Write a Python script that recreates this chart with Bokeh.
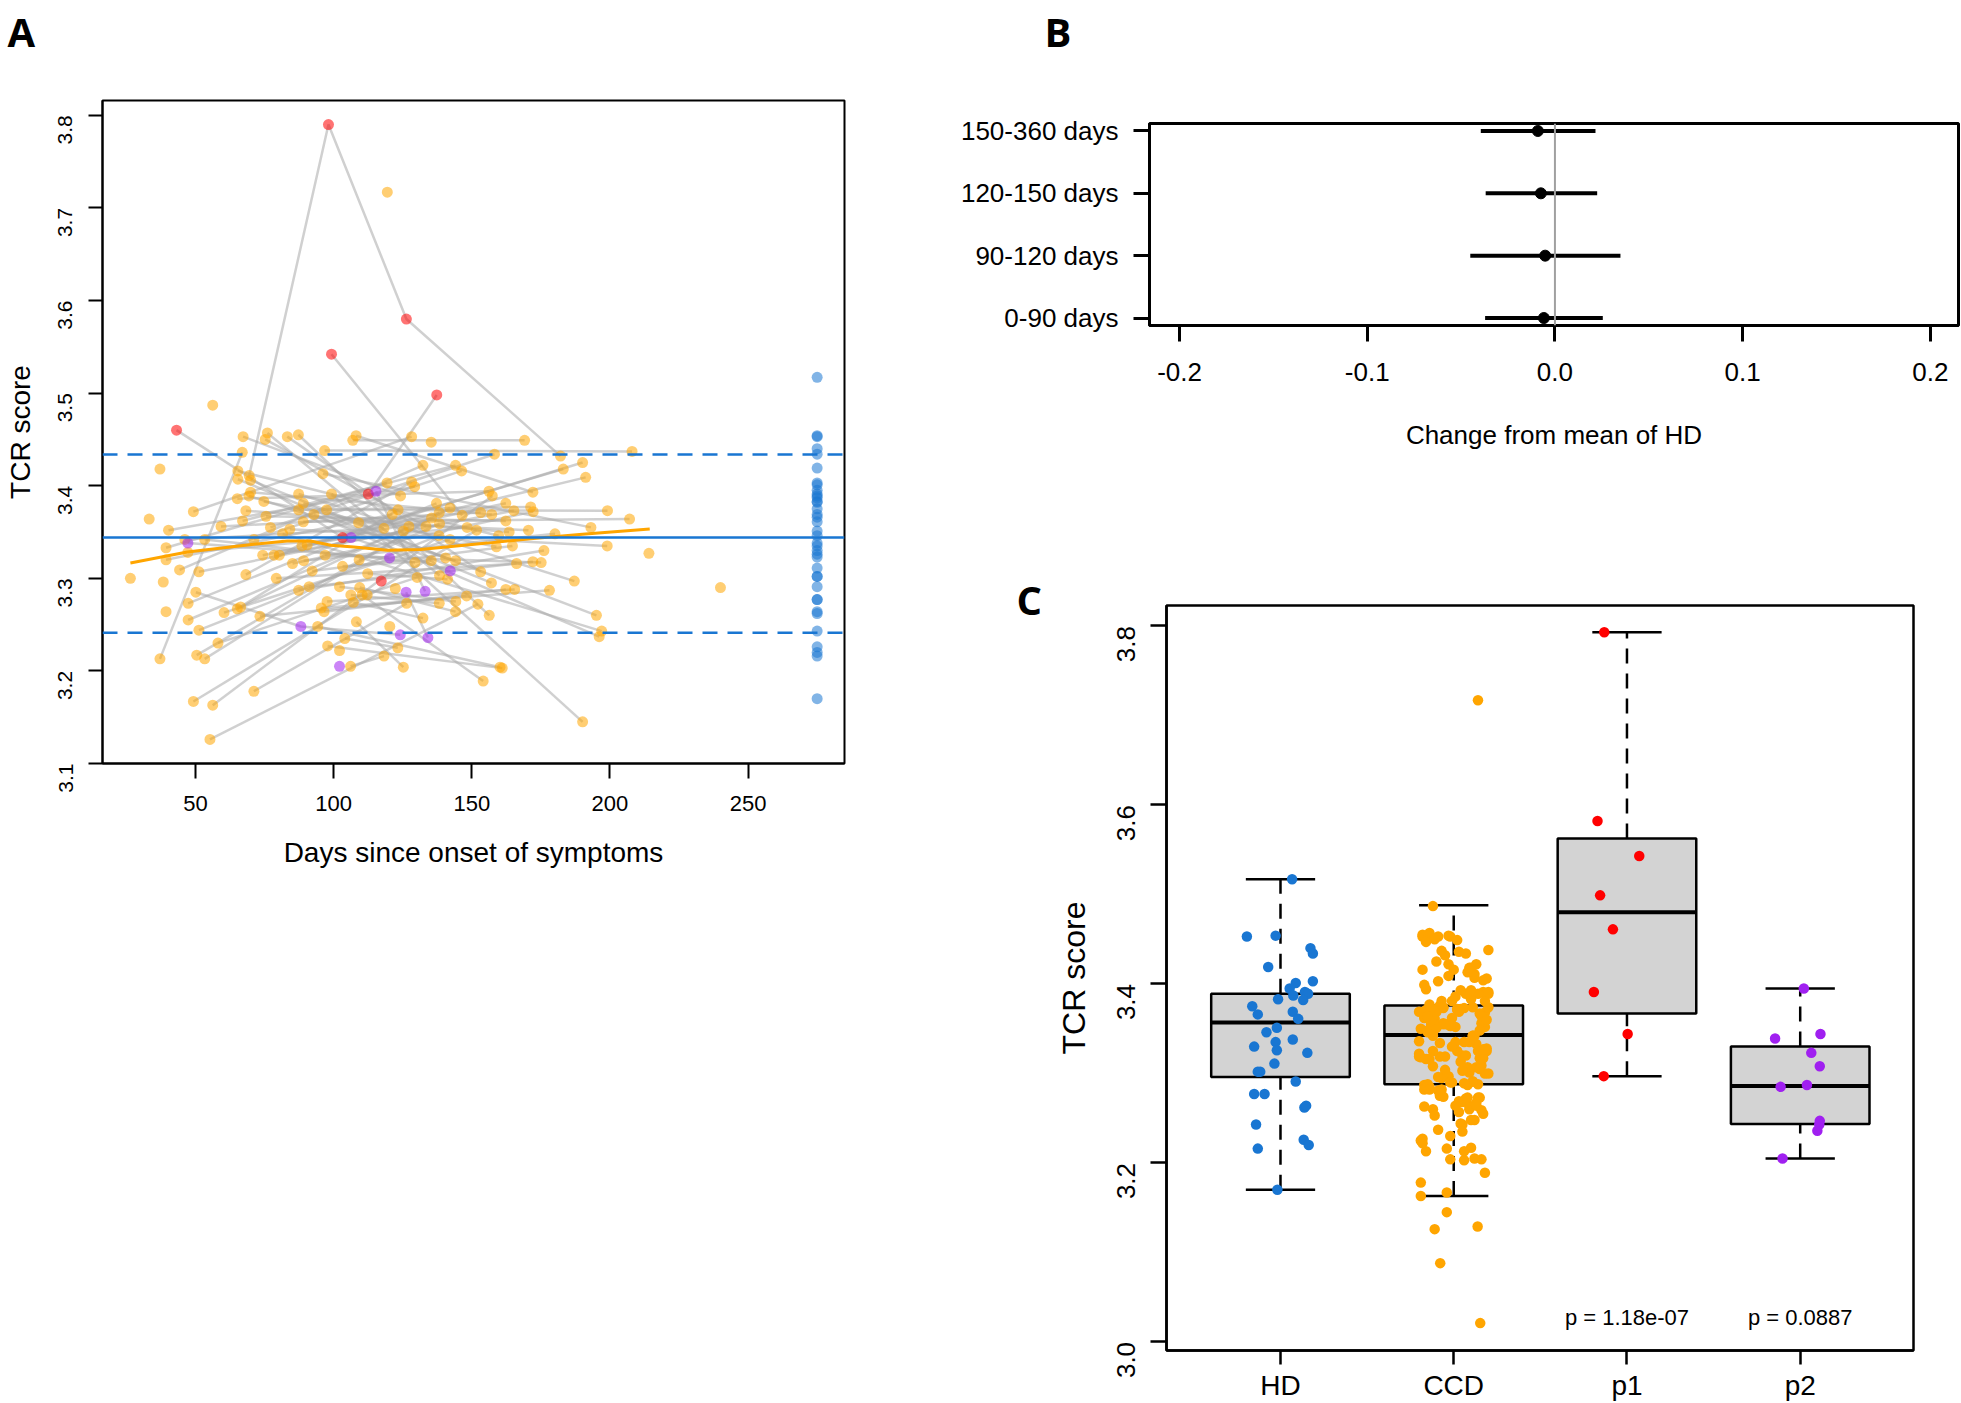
import math
from bokeh.plotting import figure
from bokeh.layouts import row, column
from bokeh.models import Range1d, FixedTicker, Span, PrintfTickFormatter, LinearAxis
from bokeh.embed import file_html
from bokeh.resources import INLINE
from bokeh.core.properties import value

FONT = "Liberation Sans"
BLUE = "#1976D2"
ORANGE = "#FFA500"
RED = "#FF0000"
PURPLE = "#A020F0"
GROUP_COLOR = {"o": ORANGE, "r": RED, "p": PURPLE}

# ---------------- Panel A data: visits per patient ----------------
pt_days = [
    [69.4, 98.1, 126.3, 182.1], [43.1, 103.2], [99.2, 146.5], [112.5, 137.3],
    [37.1, 66.9], [55.2, 152.2], [71.1, 126.4], [58.1, 130.2],
    [50.1, 88.1, 124.1], [96.7, 208.0], [40.2, 129.3], [39.3, 119.3],
    [39.3, 121.2], [44.2, 132.3], [46.1, 118.2], [47.2, 120.2],
    [47.2, 148.3], [49.2, 128.2], [51.2, 125.2], [47.3, 137.2],
    [47.3, 135.4], [51.2, 138.1], [50.4, 142.1], [53.3, 138.2],
    [49.2, 151.7], [56.2, 157.4], [53.3, 129.4], [59.2, 153.2],
    [60.3, 142.1], [67.2, 124.2], [76.0, 138.3], [83.2, 153.2],
    [87.2, 156.3], [75.2, 133.4], [65.3, 159.7], [65.3, 157.1],
    [69.9, 140.5], [69.9, 157.2], [87.3, 187.1], [96.1, 193.1],
    [69.3, 144.1], [65.1, 156.2], [74.7, 158.9], [89.0, 195.1],
    [68.2, 163.5], [75.5, 162.3], [87.3, 171.3], [92.8, 196.1],
    [97.4, 199.1], [67.0, 144.1], [77.1, 158.2], [89.0, 207.1],
    [84.1, 199.0], [81.5, 197.0], [71.1, 146.3], [74.3, 162.3],
    [78.4, 165.2], [80.3, 190.1], [88.5, 191.2], [90.4, 183.1],
    [68.2, 128.2], [85.1, 172.2], [89.1, 180.1], [92.2, 164.7],
    [79.2, 166.2], [87.3, 176.1], [91.1, 172.1], [65.1, 123.3],
    [66.3, 127.2], [73.3, 148.1], [95.5, 178.1], [99.2, 190.1],
    [96.5, 162.3], [94.2, 160.2], [97.6, 165.5], [97.8, 161.0],
    [96.9, 175.1], [108.1, 172.1], [106.9, 169.1], [115.3, 133.1],
    [109.0, 170.5], [106.3, 142.2], [109.2, 138.3], [103.2, 135.3],
    [112.3, 141.2], [102.1, 144.2], [109.4, 144.1], [126.2, 134.1],
    [106.2, 138.2], [110.3, 154.1], [107.1, 132.3], [108.2, 125.2],
    [104.0, 123.2], [106.1, 118.2],
    [37.1], [33.2], [26.4], [38.3], [39.3], [56.2], [119.4], [240.0],
    [214.1], [135.3], [117.2], [122.3], [112.1], [120.3], [102.1], [102.1],
]
pt_scores = [
    [3.411, 3.790, 3.580, 3.432], [3.460, 3.344], [3.542, 3.368], [3.391, 3.498],
    [3.213, 3.436], [3.126, 3.272], [3.178, 3.273], [3.230, 3.301],
    [3.285, 3.248, 3.239], [3.438, 3.437], [3.352, 3.399], [3.333, 3.403],
    [3.320, 3.369], [3.309, 3.422], [3.342, 3.354], [3.338, 3.322],
    [3.328, 3.355], [3.372, 3.453], [3.307, 3.351], [3.273, 3.381],
    [3.255, 3.365], [3.244, 3.346], [3.217, 3.376], [3.213, 3.371],
    [3.167, 3.352], [3.163, 3.389], [3.342, 3.317], [3.356, 3.371],
    [3.263, 3.342], [3.453, 3.389], [3.457, 3.303], [3.453, 3.307],
    [3.455, 3.260], [3.450, 3.356], [3.416, 3.346], [3.407, 3.295],
    [3.406, 3.322], [3.393, 3.369], [3.391, 3.297], [3.413, 3.355],
    [3.389, 3.319], [3.386, 3.394], [3.383, 3.334], [3.381, 3.260],
    [3.373, 3.350], [3.367, 3.362], [3.374, 3.377], [3.369, 3.237],
    [3.374, 3.373], [3.362, 3.422], [3.355, 3.434], [3.361, 3.364],
    [3.353, 3.335], [3.348, 3.243], [3.342, 3.416], [3.325, 3.381],
    [3.325, 3.373], [3.325, 3.425], [3.335, 3.409], [3.336, 3.418],
    [3.304, 3.404], [3.316, 3.372], [3.319, 3.348], [3.308, 3.335],
    [3.300, 3.316], [3.287, 3.330], [3.291, 3.318], [3.267, 3.374],
    [3.269, 3.356], [3.259, 3.281], [3.268, 3.287], [3.391, 3.145],
    [3.264, 3.288], [3.248, 3.204], [3.275, 3.288], [3.227, 3.203],
    [3.325, 3.317], [3.454, 3.393], [3.449, 3.449], [3.394, 3.286],
    [3.360, 3.352], [3.344, 3.308], [3.320, 3.359], [3.313, 3.319],
    [3.305, 3.299], [3.291, 3.275], [3.290, 3.264], [3.285, 3.236],
    [3.282, 3.273], [3.282, 3.189], [3.274, 3.257], [3.253, 3.204],
    [3.235, 3.225], [3.205, 3.216],
    [3.418], [3.364], [3.300], [3.296], [3.264], [3.487], [3.717], [3.290],
    [3.327], [3.447], [3.297], [3.289], [3.282], [3.248], [3.222], [3.205],
]
# o = convalescent (CCD), r = p1, p = p2
pt_groups = (["orro", "rr", "ro", "rr"] + ["oo"] * 4 + ["opp"] + ["oo"] * 6 + ["pp"]
             + ["oo"] * 63 + ["pp", "oo", "pp"] + ["oo"] * 5 + ["pp"] + ["oo"] * 6
             + ["o"] * 10 + ["r"] + ["o"] * 4 + ["p"])

hd_day = 275
hd_scores = [3.517, 3.453, 3.454, 3.440, 3.434, 3.419, 3.403, 3.401, 3.395, 3.391,
             3.387, 3.389, 3.382, 3.383, 3.375, 3.369, 3.366, 3.361, 3.351, 3.346,
             3.338, 3.335, 3.330, 3.326, 3.323, 3.311, 3.302, 3.302, 3.291, 3.277,
             3.277, 3.262, 3.264, 3.243, 3.226, 3.220, 3.216, 3.170]
hd_mean, hd_lower, hd_upper = 3.3442, 3.2412, 3.4338

smooth_day = [26.4, 47.0, 71.1, 83.2, 91.6, 98.9, 107.3, 119.4, 131.4, 143.5, 155.6, 171.2, 190.0, 214.4]
smooth_score = [3.3165, 3.3284, 3.3367, 3.3403, 3.3403, 3.3356, 3.3338, 3.3302, 3.3310, 3.3345,
                3.3380, 3.3428, 3.3475, 3.3532]
a_xticks = [50, 100, 150, 200, 250]
a_yticks = [3.1, 3.2, 3.3, 3.4, 3.5, 3.6, 3.7, 3.8]

# ---------------- Panel B data ----------------
b_labels = ["0-90 days", "90-120 days", "120-150 days", "150-360 days"]
b_est = [-0.0059, -0.0052, -0.0075, -0.0091]
b_lo = [-0.0372, -0.0451, -0.0369, -0.0395]
b_hi = [0.0255, 0.0349, 0.0225, 0.0216]
b_xticks = [-0.2, -0.1, 0.0, 0.1, 0.2]

# ---------------- Panel C data ----------------
c_groups = ["HD", "CCD", "p1", "p2"]
c_wlo = [3.170, 3.163, 3.297, 3.205]
c_q1 = [3.296, 3.288, 3.367, 3.2435]
c_med = [3.357, 3.343, 3.480, 3.286]
c_q3 = [3.389, 3.376, 3.5625, 3.330]
c_whi = [3.517, 3.488, 3.793, 3.395]
c_pvals = ["", "", "p = 1.18e-07", "p = 0.0887"]
c_pval_y = 3.027
c_yticks = [3.0, 3.2, 3.4, 3.6, 3.8]

hd_jitter = [0.067, -0.194, -0.028, 0.173, 0.187, -0.071, 0.187, 0.088, 0.053, 0.141,
             0.074, 0.159, 0.131, -0.014, -0.163, 0.071, -0.131, 0.102, -0.021, -0.081,
             0.071, -0.028, -0.152, -0.021, 0.155, -0.035, -0.131, -0.117, 0.088, -0.152,
             -0.092, 0.138, 0.148, -0.141, 0.134, 0.163, -0.131, -0.018]
p1_scores = [3.793, 3.582, 3.543, 3.499, 3.461, 3.391, 3.344, 3.297]
p1_jitter = [-0.131, -0.170, 0.071, -0.155, -0.081, -0.191, 0.004, -0.134]
p2_scores = [3.395, 3.339, 3.344, 3.323, 3.308, 3.287, 3.285, 3.247, 3.243, 3.236, 3.205]
p2_jitter = [0.021, -0.145, 0.117, 0.064, 0.113, 0.039, -0.113, 0.113, 0.110, 0.099, -0.102]
ccd_offscale = [3.129, 3.088, 3.021]
ccd_offscale_jitter = [0.138, -0.078, 0.153]
ccd_jitter = [
    0.12, -0.05, 0.18, -0.16, 0.03, -0.11, 0.07, -0.19, 0.15, -0.02,
    0.09, -0.14, 0.20, -0.07, 0.01, -0.17, 0.13, -0.09, 0.05, -0.20,
    0.16, -0.03, 0.11, -0.13, 0.19, -0.06, 0.02, -0.18, 0.08, -0.10,
    0.14, -0.01, 0.17, -0.15, 0.04, -0.12, 0.10, -0.08, 0.06, -0.16,
    -0.04, 0.18, -0.19, 0.07, -0.12, 0.15, -0.06, 0.02, -0.17, 0.11,
    -0.09, 0.20, -0.14, 0.05, -0.02, 0.13, -0.18, 0.09, -0.11, 0.16,
    0.00, -0.15, 0.12, -0.07, 0.19, -0.20, 0.04, -0.10, 0.17, -0.03,
    0.08, -0.13, 0.14, -0.05, 0.01, -0.16, 0.10, -0.08, 0.18, -0.12,
    0.06, -0.19, 0.15, -0.01, 0.11, -0.14, 0.03, -0.09, 0.20, -0.06,
    -0.17, 0.13, -0.04, 0.07, -0.11, 0.16, -0.02, 0.09, -0.15, 0.05,
    0.12, -0.18, 0.02, -0.07, 0.19, -0.13, 0.14, -0.10, 0.06, -0.03,
    -0.20, 0.10, -0.05, 0.17, -0.16, 0.04, -0.08, 0.15, -0.12, 0.01,
    0.18, -0.14, 0.08, -0.01, 0.11, -0.19, 0.13, -0.06, 0.03, -0.11,
    0.16, -0.09, 0.05, -0.17, 0.20, -0.04, 0.09, -0.15, 0.12, -0.02,
    -0.07, 0.14, -0.18, 0.06, -0.12, 0.17, -0.03, 0.10, -0.16, 0.02,
    0.19, -0.10, 0.07, -0.13, 0.04, -0.20, 0.15, -0.05, 0.11, -0.08,
    -0.01, 0.13, -0.17, 0.08, -0.14, 0.18, -0.06, 0.03, -0.11, 0.16,
    0.05, -0.19, 0.12, -0.04, 0.09, -0.15, 0.20, -0.09, 0.01, -0.12,
    0.14, -0.02, 0.17, -0.16, 0.06, -0.07, 0.10, -0.18, 0.13, -0.10,
    -0.13, 0.04, -0.08, 0.19, -0.03, 0.11, -0.20, 0.07, -0.14, 0.15,
]


def style(p, lw):
    p.frame_align = False
    p.xgrid.visible = False
    p.ygrid.visible = False
    p.outline_line_color = "black"
    p.outline_line_width = lw
    p.outline_line_alpha = 1.0
    p.background_fill_color = "white"
    p.border_fill_color = "white"
    xa, ya = p.below[0], p.left[0]
    for ax in (xa, ya):
        ax.axis_line_color = "black"
        ax.axis_line_width = lw
        ax.major_tick_line_color = "black"
        ax.major_tick_line_width = lw
        ax.major_tick_in = 0
        ax.minor_tick_line_color = None
        ax.major_label_text_font = FONT
        ax.major_label_text_color = "black"
        ax.axis_label_text_font = FONT
        ax.axis_label_text_font_style = "normal"
        ax.axis_label_text_color = "black"
    return xa, ya


def panel_letter(p, letter, offset, standoff, gap):
    # an empty spacer axis between the frame and the title lifts the letter
    if gap > 0:
        spacer = LinearAxis(ticker=FixedTicker(ticks=[]), major_tick_out=0, major_tick_in=0,
                            axis_line_color=None, major_tick_line_color=None,
                            minor_tick_line_color=None, major_label_standoff=0,
                            axis_label=" ", axis_label_text_font_size="1px",
                            axis_label_standoff=gap - 1)
        p.add_layout(spacer, "above")
    p.title.text = letter
    p.title.align = "left"
    p.title.offset = offset
    p.title.standoff = standoff
    p.title.text_font = "Open Sans"
    p.title.text_font_style = "bold"
    p.title.text_font_size = "40px"
    p.title.text_color = "black"


# ======================= Panel A =======================
pA = figure(width=950, height=900, x_range=Range1d(16.3, 284.9), y_range=Range1d(3.1, 3.816),
            output_backend="svg", toolbar_location=None,
            min_border_left=102, min_border_right=106, min_border_top=100, min_border_bottom=137)
xa, ya = style(pA, 2)
xa.ticker = FixedTicker(ticks=a_xticks)
xa.major_tick_out = 15
xa.major_label_text_font_size = "22px"
xa.major_label_standoff = 17
xa.axis_label = "Days since onset of symptoms"
xa.axis_label_text_font_size = "28px"
xa.axis_label_standoff = 23
ya.ticker = FixedTicker(ticks=a_yticks)
ya.formatter = PrintfTickFormatter(format="%.1f")
ya.major_label_orientation = math.pi / 2
ya.major_tick_out = 14
ya.major_label_text_font_size = "21px"
ya.major_label_standoff = 23
ya.axis_label = "TCR score"
ya.axis_label_text_font_size = "28px"
ya.axis_label_standoff = 13
panel_letter(pA, "A", -95, 0, 39)

line_xs = [d for d in pt_days if len(d) > 1]
line_ys = [s for d, s in zip(pt_days, pt_scores) if len(d) > 1]
pA.multi_line(line_xs, line_ys, line_color="#A9A9A9", line_alpha=0.55, line_width=2.5)

pts = {"o": ([], []), "r": ([], []), "p": ([], [])}
for days, scores, groups in zip(pt_days, pt_scores, pt_groups):
    for d, s, g in zip(days, scores, groups):
        pts[g][0].append(d)
        pts[g][1].append(s)
for g in ("o", "r", "p"):
    pA.scatter(pts[g][0], pts[g][1], size=11, fill_color=GROUP_COLOR[g], fill_alpha=0.55,
               line_color=None)
pA.scatter([hd_day] * len(hd_scores), hd_scores, size=11, fill_color=BLUE, fill_alpha=0.55,
           line_color=None)

pA.add_layout(Span(location=hd_mean, dimension="width", line_color=BLUE, line_width=2.5))
for loc in (hd_lower, hd_upper):
    pA.add_layout(Span(location=loc, dimension="width", line_color=BLUE, line_width=2.5,
                       line_dash="15 10"))
pA.line(smooth_day, smooth_score, line_color=ORANGE, line_width=3)

# ======================= Panel B =======================
b_pos = [1, 2, 3, 4]
pB = figure(width=1011, height=480, x_range=Range1d(-0.216, 0.215), y_range=Range1d(0.88, 4.12),
            output_backend="svg", toolbar_location=None,
            min_border_left=199, min_border_right=3, min_border_top=123, min_border_bottom=155)
xb, yb = style(pB, 3)
xb.ticker = FixedTicker(ticks=b_xticks)
xb.formatter = PrintfTickFormatter(format="%.1f")
xb.major_tick_out = 16
xb.major_label_text_font_size = "26px"
xb.major_label_standoff = 21
xb.axis_label = "Change from mean of HD"
xb.axis_label_text_font_size = "26px"
xb.axis_label_standoff = 36
yb.ticker = FixedTicker(ticks=b_pos)
yb.major_label_overrides = {p: lab for p, lab in zip(b_pos, b_labels)}
yb.major_tick_out = 16
yb.major_label_text_font_size = "26px"
yb.major_label_standoff = 15
panel_letter(pB, "B", -105, 0, 62)
pB.add_layout(Span(location=0, dimension="height", line_color="#A0A0A0", line_width=2))
pB.segment(x0=b_lo, y0=b_pos, x1=b_hi, y1=b_pos, line_color="black", line_width=4)
pB.scatter(b_est, b_pos, size=11, fill_color="black", line_color="black")

# ======================= Panel C =======================
c_pos = [1, 2, 3, 4]
pC = figure(width=1011, height=923, x_range=Range1d(0.342, 4.654), y_range=Range1d(2.9904, 3.8229),
            output_backend="svg", toolbar_location=None,
            min_border_left=216, min_border_right=48, min_border_top=125, min_border_bottom=52)
xc, yc = style(pC, 2.5)
xc.ticker = FixedTicker(ticks=c_pos)
xc.major_label_overrides = {p: lab for p, lab in zip(c_pos, c_groups)}
xc.major_tick_out = 14
xc.major_label_text_font_size = "28px"
xc.major_label_standoff = 5
yc.ticker = FixedTicker(ticks=c_yticks)
yc.formatter = PrintfTickFormatter(format="%.1f")
yc.major_label_orientation = math.pi / 2
yc.major_tick_out = 16
yc.major_label_text_font_size = "26px"
yc.major_label_standoff = 24
yc.axis_label = "TCR score"
yc.axis_label_text_font_size = "32px"
yc.axis_label_standoff = 14
panel_letter(pC, "C", -150, -42, 0)

pC.segment(x0=c_pos, y0=c_q3, x1=c_pos, y1=c_whi, line_color="black", line_width=2.5,
           line_dash="15 10")
pC.segment(x0=c_pos, y0=c_wlo, x1=c_pos, y1=c_q1, line_color="black", line_width=2.5,
           line_dash="15 10")
pC.segment(x0=[c - 0.2 for c in c_pos], y0=c_whi, x1=[c + 0.2 for c in c_pos], y1=c_whi,
           line_color="black", line_width=2.5)
pC.segment(x0=[c - 0.2 for c in c_pos], y0=c_wlo, x1=[c + 0.2 for c in c_pos], y1=c_wlo,
           line_color="black", line_width=2.5)
pC.quad(left=[c - 0.4 for c in c_pos], right=[c + 0.4 for c in c_pos], bottom=c_q1, top=c_q3,
        fill_color="#D3D3D3", line_color="black", line_width=2.5)
pC.segment(x0=[c - 0.4 for c in c_pos], y0=c_med, x1=[c + 0.4 for c in c_pos], y1=c_med,
           line_color="black", line_width=4)

ccd_scores = pts["o"][1] + ccd_offscale
ccd_jit = ccd_jitter[:len(pts["o"][1])] + ccd_offscale_jitter
pC.scatter([1 + j for j in hd_jitter], hd_scores, size=10.5, fill_color=BLUE, line_color=None)
pC.scatter([2 + j for j in ccd_jit], ccd_scores, size=10.5, fill_color=ORANGE, line_color=None)
pC.scatter([3 + j for j in p1_jitter], p1_scores, size=10.5, fill_color=RED, line_color=None)
pC.scatter([4 + j for j in p2_jitter], p2_scores, size=10.5, fill_color=PURPLE, line_color=None)
pC.text(x=c_pos, y=[c_pval_y] * 4, text=c_pvals, text_font=value(FONT), text_font_size="22px",
        text_align="center", text_baseline="middle", text_color="black")

layout = row(pA, column(pB, pC))
open("out.html", "w").write(file_html(layout, INLINE, title="TCR score"))
